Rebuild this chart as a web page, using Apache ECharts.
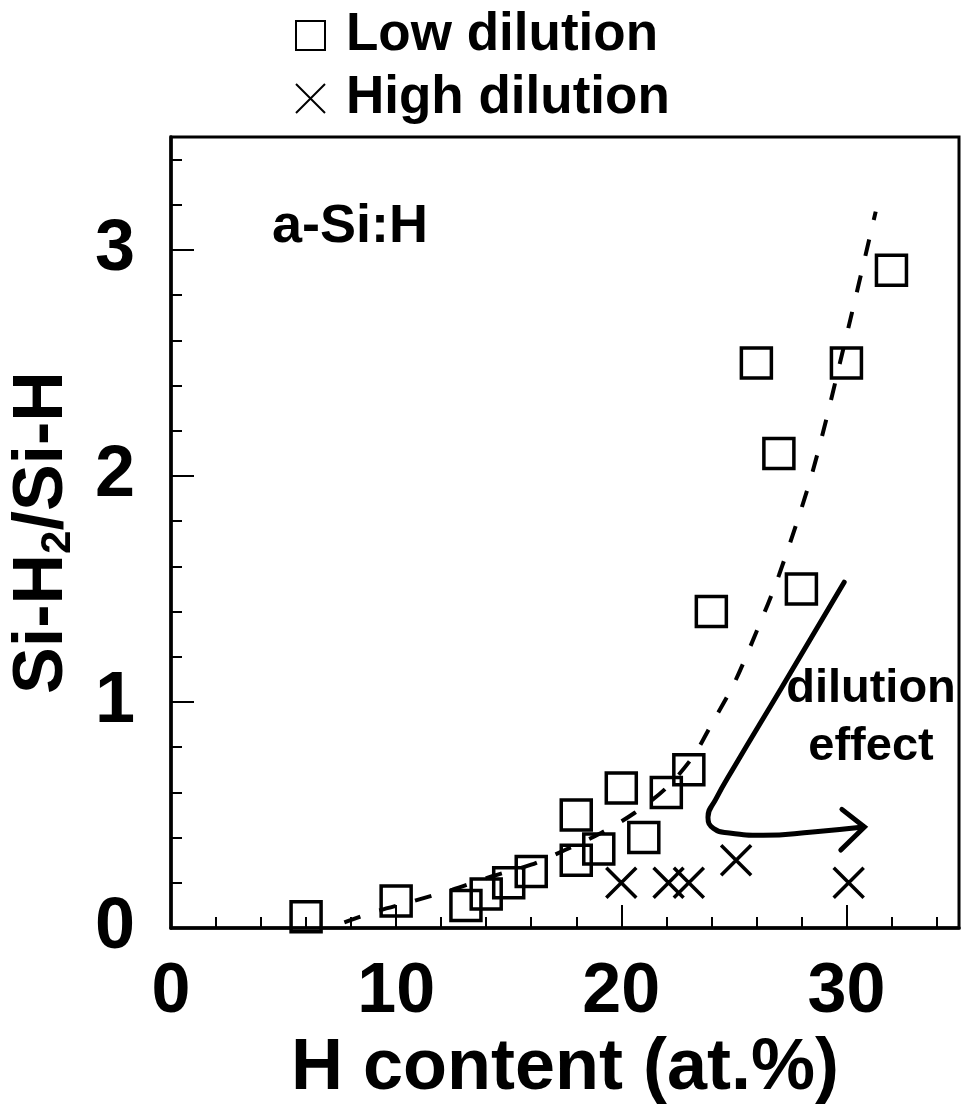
<!DOCTYPE html>
<html>
<head>
<meta charset="utf-8">
<script src="https://cdn.jsdelivr.net/npm/echarts@6/dist/echarts.min.js"></script>
<style>html,body{margin:0;padding:0;background:#fff}#c{width:962px;height:1111px}</style>
</head>
<body>
<div id="c"></div>
<script>
// Low dilution (squares)
const lowX = [6, 10, 13.1, 14, 15, 16, 18, 18, 19, 20, 21, 22, 23, 24, 26, 27, 28, 30, 32];
const lowY = [0.05, 0.12, 0.10, 0.15, 0.20, 0.25, 0.30, 0.50, 0.35, 0.62, 0.40, 0.60, 0.70, 1.40, 2.50, 2.10, 1.50, 2.50, 2.91];
// High dilution (crosses)
const highX = [20, 22.1, 23, 25.1, 30.1];
const highY = [0.20, 0.20, 0.20, 0.30, 0.20];
// Dashed guide curve
const fitX = [7.7, 9, 10.8, 12.5, 14.3, 16, 17.5, 19.1, 20.6, 22, 23.2, 24, 25, 26, 27, 28.5, 30, 31.3];
const fitY = [0.025, 0.07, 0.12, 0.17, 0.23, 0.28, 0.345, 0.42, 0.51, 0.62, 0.76, 0.9, 1.08, 1.31, 1.56, 2.02, 2.62, 3.17];
// "dilution effect" arrow path (data coordinates)
const arrowX = [29.9, 27.1, 25.0, 24.2, 23.85, 24.1, 24.8, 26.3, 28.5, 30.75];
const arrowY = [1.53, 1.06, 0.71, 0.57, 0.49, 0.44, 0.42, 0.41, 0.425, 0.447];
const headX = [29.8, 30.8, 29.75];
const headY = [0.525, 0.447, 0.345];
// Axis ticks
const xTicks = [0, 10, 20, 30];
const yTicks = [0, 1, 2, 3];

const zip = (a, b) => a.map((v, i) => [v, b[i]]);
const FONT = "'Liberation Sans', Arial, Helvetica, sans-serif";
const crossPath = 'path://M0,0L10,10M10,0L0,10';

const chart = echarts.init(document.getElementById('c'));
chart.setOption({
  animation: false,
  backgroundColor: '#fff',
  grid: { left: 167, right: 3, top: 137, bottom: 183, show: true, borderColor: '#000', borderWidth: 3, backgroundColor: 'transparent' },
  legend: {
    orient: 'vertical', left: 290, top: 4, itemWidth: 29, itemHeight: 29, itemGap: 10,
    textStyle: { fontFamily: FONT, fontWeight: 'bold', fontSize: 53, color: '#000', padding: [0, 0, 0, 16] },
    data: [
      { name: 'Low dilution', icon: 'rect', itemStyle: { color: '#fff', borderColor: '#000', borderWidth: 2, opacity: 1 } },
      { name: 'High dilution', icon: crossPath, itemStyle: { color: 'transparent', borderColor: '#000', borderWidth: 2, opacity: 1 } }
    ]
  },
  xAxis: [
    {
      type: 'value', min: 0, max: 35, interval: 10,
      name: 'H content (at.%)', nameLocation: 'middle', nameGap: 104,
      nameTextStyle: { fontFamily: FONT, fontWeight: 'bold', fontSize: 72, color: '#000' },
      axisLine: { show: true, lineStyle: { color: '#000', width: 3.5 } },
      axisTick: { show: true, inside: true, length: 23, lineStyle: { color: '#000', width: 2 } },
      axisLabel: { fontFamily: FONT, fontWeight: 'bold', fontSize: 70, color: '#000', margin: 30, showMaxLabel: false,
        formatter: v => xTicks.includes(v) ? String(v) : '' },
      splitLine: { show: false }
    },
    {
      type: 'value', min: 0, max: 35, interval: 2, position: 'bottom',
      axisLine: { show: false },
      axisTick: { show: true, inside: true, length: 11, lineStyle: { color: '#000', width: 2 } },
      axisLabel: { show: false }, splitLine: { show: false }
    }
  ],
  yAxis: [
    {
      type: 'value', min: 0, max: 3.5, interval: 1,
      name: '{a|Si-H}{b|2}{a|/Si-H}', nameLocation: 'middle', nameGap: 92, nameRotate: 90,
      nameTextStyle: { rich: {
        a: { fontFamily: FONT, fontWeight: 'bold', fontSize: 70, color: '#000', lineHeight: 72 },
        b: { fontFamily: FONT, fontWeight: 'bold', fontSize: 42, color: '#000', lineHeight: 52, verticalAlign: 'bottom' }
      } },
      axisLine: { show: true, lineStyle: { color: '#000', width: 3.5 } },
      axisTick: { show: true, inside: true, length: 23, lineStyle: { color: '#000', width: 2 } },
      axisLabel: { fontFamily: FONT, fontWeight: 'bold', fontSize: 72, color: '#000', margin: 36, showMaxLabel: false,
        formatter: v => yTicks.includes(v) ? String(v) : '' },
      splitLine: { show: false }
    },
    {
      type: 'value', min: 0, max: 3.5, interval: 0.2, position: 'left',
      axisLine: { show: false },
      axisTick: { show: true, inside: true, length: 11, lineStyle: { color: '#000', width: 2 } },
      axisLabel: { show: false }, splitLine: { show: false }
    }
  ],
  graphic: [
    { type: 'text', left: 272, top: 200, style: { text: 'a-Si:H', font: 'bold 54px ' + FONT, fill: '#000' } },
    { type: 'text', x: 871, y: 666, style: { text: 'dilution', font: 'bold 47px ' + FONT, fill: '#000', align: 'center', verticalAlign: 'top' } },
    { type: 'text', x: 871, y: 724, style: { text: 'effect', font: 'bold 47px ' + FONT, fill: '#000', align: 'center', verticalAlign: 'top' } }
  ],
  series: [
    { type: 'line', name: 'fit', data: zip(fitX, fitY), smooth: 0.3, showSymbol: false, silent: true,
      lineStyle: { color: '#000', width: 4, type: [17, 20], opacity: 1 }, z: 2 },
    { type: 'line', name: 'arrow', data: zip(arrowX, arrowY), smooth: 0.5, showSymbol: false, silent: true,
      lineStyle: { color: '#000', width: 5, cap: 'round', opacity: 1 }, z: 2 },
    { type: 'line', name: 'arrowhead', data: zip(headX, headY), smooth: false, showSymbol: false, silent: true,
      lineStyle: { color: '#000', width: 5, cap: 'round', join: 'miter', opacity: 1 }, z: 2 },
    { type: 'scatter', name: 'Low dilution', data: zip(lowX, lowY), symbol: 'rect', symbolSize: 30,
      itemStyle: { color: 'transparent', borderColor: '#000', borderWidth: 3.5, opacity: 1 }, z: 3 },
    { type: 'scatter', name: 'High dilution', data: zip(highX, highY), symbol: crossPath, symbolSize: 30,
      itemStyle: { color: 'transparent', borderColor: '#000', borderWidth: 3.5, opacity: 1 }, z: 3 }
  ]
});
</script>
</body>
</html>
